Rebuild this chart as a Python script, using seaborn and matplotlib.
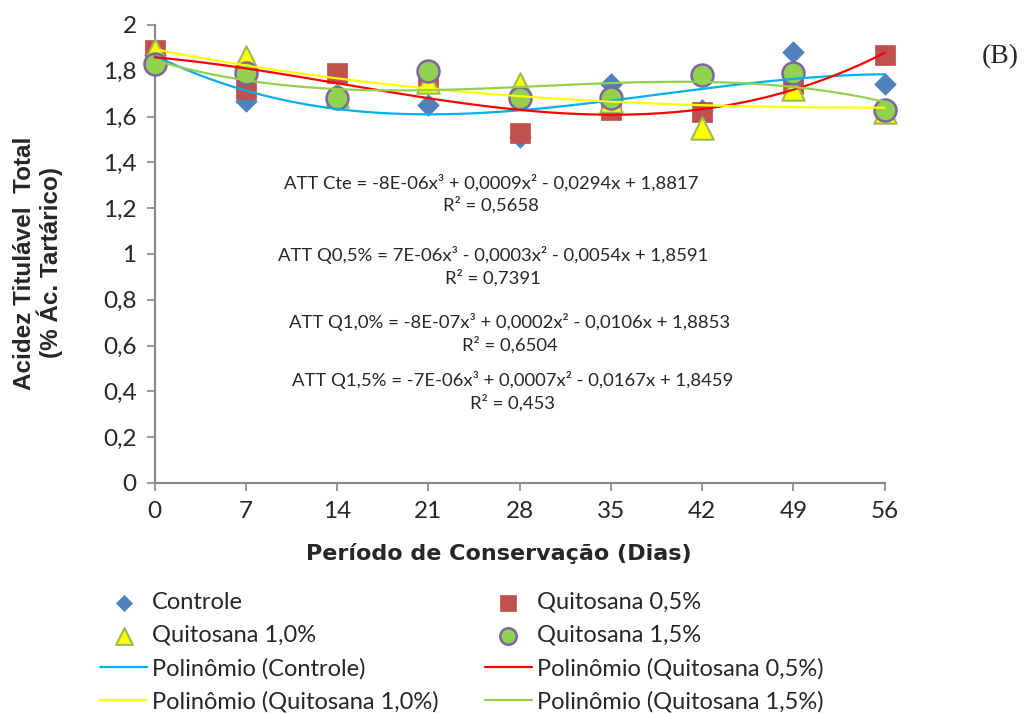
import matplotlib.pyplot as plt
import numpy as np
import pandas as pd
import seaborn as sns

# values
dias = [0, 7, 14, 21, 28, 35, 42, 49, 56]
controle = [1.87, 1.67, 1.70, 1.65, 1.51, 1.74, 1.63, 1.88, 1.74]
quit_05 = [1.89, 1.72, 1.79, 1.77, 1.53, 1.63, 1.62, 1.74, 1.87]
quit_10 = [1.89, 1.86, 1.69, 1.75, 1.74, 1.67, 1.55, 1.72, 1.62]
quit_15 = [1.83, 1.79, 1.68, 1.80, 1.68, 1.68, 1.78, 1.79, 1.63]

nomes = ["Controle", "Quitosana 0,5%", "Quitosana 1,0%", "Quitosana 1,5%"]
equacoes = [
    "ATT Cte = -8E-06x³ + 0,0009x² - 0,0294x + 1,8817\nR² = 0,5658",
    "ATT Q0,5% = 7E-06x³ - 0,0003x² - 0,0054x + 1,8591\nR² = 0,7391",
    "ATT Q1,0% = -8E-07x³ + 0,0002x² - 0,0106x + 1,8853\nR² = 0,6504",
    "ATT Q1,5% = -7E-06x³ + 0,0007x² - 0,0167x + 1,8459\nR² = 0,453",
]

sns.set_style("white")
plt.rcParams['font.family'] = ['Lato', 'DejaVu Sans']

estilos = [
    dict(marker="D", s=120, color="#4F81BD", edgecolor="#4F81BD", linewidth=0.5),
    dict(marker="s", s=220, color="#C0504D", edgecolor="#C0504D", linewidth=0.5),
    dict(marker="^", s=260, color="#FFFF00", edgecolor="#9BBB59", linewidth=1.5),
    dict(marker="o", s=250, color="#92D050", edgecolor="#8064A2", linewidth=1.8),
]
cores_linha = ["#00B0F0", "#FF0000", "#FFFF00", "#92D050"]

fig = plt.figure(figsize=(10.31, 7.13), dpi=100)
ax = fig.add_axes([0.150, 0.3226, 0.708, 0.6424])

series = [controle, quit_05, quit_10, quit_15]
for nome, vals, est in zip(nomes, series, estilos):
    df = pd.DataFrame({"dia": dias, "att": vals})
    sns.scatterplot(data=df, x="dia", y="att", ax=ax, label=nome,
                    clip_on=False, zorder=3, **est)

x_fit = np.linspace(0, 56, 200)
for nome, vals, cor in zip(nomes, series, cores_linha):
    coef = np.polyfit(dias, vals, 3)
    df_fit = pd.DataFrame({"dia": x_fit, "att": np.polyval(coef, x_fit)})
    sns.lineplot(data=df_fit, x="dia", y="att", ax=ax, color=cor, linewidth=1.6,
                 label=f"Polinômio ({nome})", zorder=4, clip_on=False)

ax.set_xlim(0, 56)
ax.set_ylim(0, 2)
ax.set_xticks(dias)
ax.set_yticks(np.arange(0, 2.01, 0.2))
ax.set_yticklabels(["0", "0,2", "0,4", "0,6", "0,8", "1", "1,2", "1,4", "1,6", "1,8", "2"])
ax.tick_params(axis="both", direction="out", length=6, width=1.2, color="#868686",
               labelsize=17.5, pad=7, left=True, bottom=True)
for lado in ["top", "right"]:
    ax.spines[lado].set_visible(False)
for lado in ["left", "bottom"]:
    ax.spines[lado].set_color("#868686")
    ax.spines[lado].set_linewidth(1.5)

ax.set_xlabel("")
ax.set_ylabel("")
fig.text(499 / 1031, 1 - 553 / 713, "Período de Conservação (Dias)", family="DejaVu Sans",
         fontweight="bold", fontsize=16, ha="center", va="center")
fig.text(38 / 1031, 1 - 263 / 713, "Acidez Titulável  Total\n(% Ác. Tartárico)",
         family="Liberation Sans", fontweight="bold", fontsize=17.5, rotation=90,
         ha="center", va="center", linespacing=1.0)

pos_eq = [(491, 194), (493, 266), (510, 333), (513, 391)]
for txt, (px, py) in zip(equacoes, pos_eq):
    fig.text(px / 1031, 1 - py / 713, txt, ha="center", va="center",
             fontsize=13.3, linespacing=1.35)

fig.text(1000 / 1031, 1 - 57 / 713, "(B)", family="Liberation Serif", fontsize=20,
         ha="center", va="center")

handles, labels = ax.get_legend_handles_labels()
ax.get_legend().remove()
ordem = [0, 2, 4, 6, 1, 3, 5, 7]
fig.legend([handles[i] for i in ordem], [labels[i] for i in ordem],
           loc="upper left", bbox_to_anchor=(100 / 1031, 1 - 592 / 713), ncol=2,
           frameon=False, fontsize=17, handlelength=2.0, handletextpad=0.2,
           columnspacing=1.95, labelspacing=0.5, borderaxespad=0, borderpad=0,
           markerscale=0.75)

fig.savefig("out.png", dpi=100)
